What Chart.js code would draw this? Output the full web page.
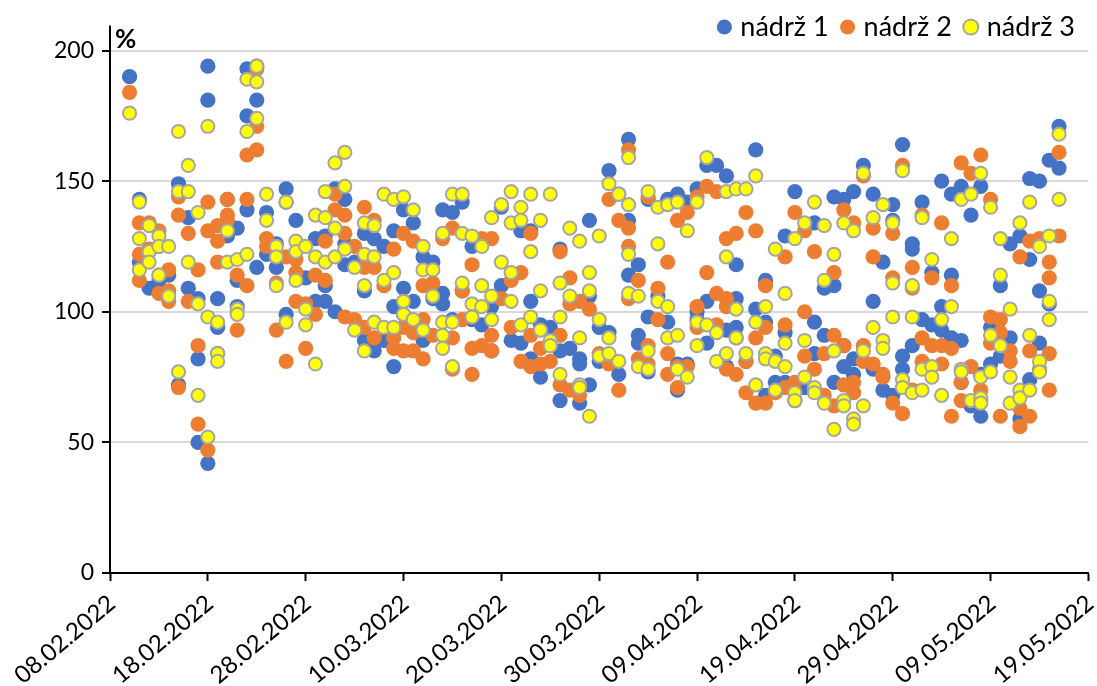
<!DOCTYPE html>
<html>
<head>
<meta charset="utf-8">
<script src="https://cdn.jsdelivr.net/npm/chart.js@4"></script>
<style>html,body{margin:0;padding:0;background:#fff}canvas{display:block}</style>
</head>
<body>
<canvas id="c" width="1097" height="686"></canvas>
<script>
const tickLabels = ["08.02.2022","18.02.2022","28.02.2022","10.03.2022","20.03.2022","30.03.2022","09.04.2022","19.04.2022","29.04.2022","09.05.2022","19.05.2022"];
const seriesNames = ["nádrž 1","nádrž 2","nádrž 3"];
// days after 08.02.2022, one entry per measured day
const days = [2,3,4,5,6,7,8,9,10,11,
12,13,14,15,16,17,18,19,20,21,
22,23,24,25,26,27,28,29,30,31,
32,33,34,35,36,37,38,39,40,41,
42,43,44,45,46,47,48,49,50,51,
52,53,54,55,56,57,58,59,60,61,
62,63,64,65,66,67,68,69,70,71,
72,73,74,75,76,77,78,79,80,81,
82,83,84,85,86,87,88,89,90,91,
92,93,94,95,96,97];
const tank1 = [[190],[143,119],[109],[125,112],[114],[149,72],[136,109],[105,82,50],[194,181,42],[105,94,84],
[143,129],[132,112,102],[193,175,139],[194,181,117],[138,122],[126,117],[147,142,99],[135],[113],[128,104],
[129,110,104],[147,100],[143,126,118],[119],[130,108,89],[128,85],[125,89],[131,102,79],[139,109,99],[134,104],
[121,89],[119,105],[139,107,103],[138,97],[142,108],[125,97],[95],[102,85],[140,110],[89],
[131,88],[131,104,82],[95,75],[94],[124,85,66],[86],[82,80,65],[135,106,72],[94,81],[154,92],
[145,76],[166,135,114],[118,91,88],[143,98,77],[106],[143,96],[145,80,70],[142,80],[147,100,97],[156,104,88],
[156],[152,93,79],[118,105,94],[81],[162,101],[112,96,68],[83,73],[129,92,73],[146,66],[71],
[134,96,84],[109,91],[144,110,73],[143,87,79],[146,82,76],[156],[145,104,78],[119,70],[141,135,68],[164,83,78],
[126,124,87],[142,97],[115,95],[150,102,93],[145,114,90],[148,89,73],[137,64],[148,76,60],[94,80],[110,83],
[126,90],[129,59],[151,120,74],[150,108,88],[158,103],[171,155]];
const tank2 = [[184],[134,122,112],[134,124],[131,114,107],[116,108,104],[144,137,71],[130,104],[116,87,57],[142,131,47],[133,127,119],
[143,137,135],[114,93],[160,143,110],[193,171,162],[128,125],[111,93],[121,81],[120,115,104],[103,86],[114,99],
[127,112],[145,139],[137,130,98],[125,97],[140,117,94],[135,117,90],[110],[124,90,86],[130,94,85],[127,92,85],
[110,97,82],[111,91],[128],[132,90,78],[108,97],[118,86,76],[128,87],[128,91,85],[105],[112,94],
[115,81],[130,91,79],[86,80],[81],[123,91,72],[113,103,70],[104,68],[101],[84],[143,80],
[135,70],[162,132,125,105],[112,82],[144,87,80],[109,97],[119,84,76],[135,79,71],[138,79],[144,102,94],[148,115],
[146,107,95],[128,105,102,78],[130,90,76],[138,81,69],[131,90,65],[110,94,65],[69],[121,95,71],[138,73],[131,100,83],
[123,78],[84,68],[115,91,64],[139,87,72],[134,73,69],[152,87,81],[132,121,80],[76,75],[130,113,65],[156,61],
[117,109,70],[137,90,81],[113,87],[134,87,80],[110,86,60],[157,73,66],[153,79],[160,70,66],[143,98,88],[97,92,60],
[85,81],[121,63,56],[127,85,60],[128,78],[119,113,84,70],[161,129]];
const tank3 = [[176],[142,128,116],[133,123,119],[129,125,114],[125,106],[169,146,77],[156,146,119],[138,103,68],[171,98,52],[96,84,81],
[131,119],[120,101,99],[189,169,122],[194,188,174],[145,135],[125,121,110],[142,96],[127,123,112],[125,101,95],[137,121,80],
[146,136,119],[157,132,121],[161,148,124],[117,93],[134,122,110,85],[133,121,96],[145,112,94],[143,115,94],[144,104,99],[139,97],
[125,116,93],[116,106],[130,96,91,86],[145,96,79],[145,130,111],[129,103,98],[125,110,102],[136,106,97],[141,119],[146,134,115,104],
[140,135,95],[145,123,98],[135,108,93],[145,89,87],[111,98,76],[132,106],[127,90,72,71],[115,108,60],[129,97,83],[149,90,84],
[145,81],[159,141,122,107],[106,79],[146,85,78],[140,126,104],[141,102,90],[142,91,78],[131,75],[142,96,87],[159,95],
[92,81],[146,121,84],[147,101,90],[147,84],[152,96,72],[102,84,82],[124,81,70],[107,88,79],[128,69,66],[134,89,75],
[142,71,69],[133,112,65],[122,85,55],[134,66,64],[131,59,57],[153,85,64],[136,94],[141,89,86],[134,111,98],[154,74,71],
[110,98,69],[136,78,70],[120,79,75],[97,68],[128,102],[143,78,77],[145,66],[153,75,67,65],[140,91,77],[128,114,87],
[101,75,65],[134,70,67],[142,91,70],[125,81,77],[129,104,97],[168,143]];

const FONT = "Lato, Carlito, Calibri, sans-serif";
const toPoints = lists => days.flatMap((d,i) => lists[i].map(v => ({x:d,y:v})));

const decorations = {
  id:'decorations',
  afterLayout(chart){ chart.legend.top = -3; chart.legend.right = 1091.5; },
  afterDraw(chart){
    const c = chart.ctx, s = chart.scales, x0 = s.x.getPixelForValue(0), y200 = s.y.getPixelForValue(200);
    c.save();
    c.strokeStyle = "#000"; c.lineWidth = 2;
    c.beginPath(); c.moveTo(x0, y200); c.lineTo(x0, y200 - 25); c.stroke();
    c.font = "bold 26px " + FONT;
    c.fillStyle = "#000";
    c.textAlign = "left";
    c.textBaseline = "alphabetic";
    c.fillText("%", x0 + 5, y200 - 3);
    c.restore();
  }
};

new Chart(document.getElementById('c'), {
  type:'scatter',
  data:{datasets:[
    {label:seriesNames[0],data:toPoints(tank1),order:3,backgroundColor:'#4472C4',borderColor:'#4472C4',borderWidth:0,pointRadius:7.6,pointHoverRadius:7.6},
    {label:seriesNames[1],data:toPoints(tank2),order:2,backgroundColor:'#ED7D31',borderColor:'#ED7D31',borderWidth:0,pointRadius:7.6,pointHoverRadius:7.6},
    {label:seriesNames[2],data:toPoints(tank3),order:1,backgroundColor:'#FFFF00',borderColor:'#A5A5A5',borderWidth:2,pointRadius:6.6,pointHoverRadius:6.6}
  ]},
  options:{
    responsive:false,animation:false,
    layout:{padding:{left:0,top:-3,right:7,bottom:0}},
    plugins:{
      tooltip:{enabled:false},
      legend:{position:'top',align:'end',
        labels:{usePointStyle:true,boxWidth:5,boxHeight:10.7,padding:16.5,color:'#000',font:{family:FONT,size:27},
          sort:(a,b)=>a.datasetIndex-b.datasetIndex}}
    },
    scales:{
      x:{type:'linear',min:0,max:100,
        afterFit(s){s.height=113;s.paddingRight=0;s.paddingLeft=0;},
        border:{color:'#000',width:2},
        grid:{drawOnChartArea:false,drawTicks:true,tickLength:8,tickColor:'#000',tickWidth:2},
        ticks:{stepSize:10,autoSkip:false,maxRotation:40,minRotation:40,padding:8,labelOffset:2,color:'#000',font:{family:FONT,size:24},
          callback:v=>tickLabels[v/10]}
      },
      y:{min:0,max:200,
        afterFit(s){s.width=110;},
        border:{color:'#000',width:2},
        grid:{color:'#D9D9D9',lineWidth:2,tickLength:8,tickColor:'#000',tickWidth:2},
        ticks:{stepSize:50,includeBounds:false,padding:8,color:'#000',font:{family:FONT,size:23}}
      }
    }
  },
  plugins:[decorations]
});
</script>
</body>
</html>
